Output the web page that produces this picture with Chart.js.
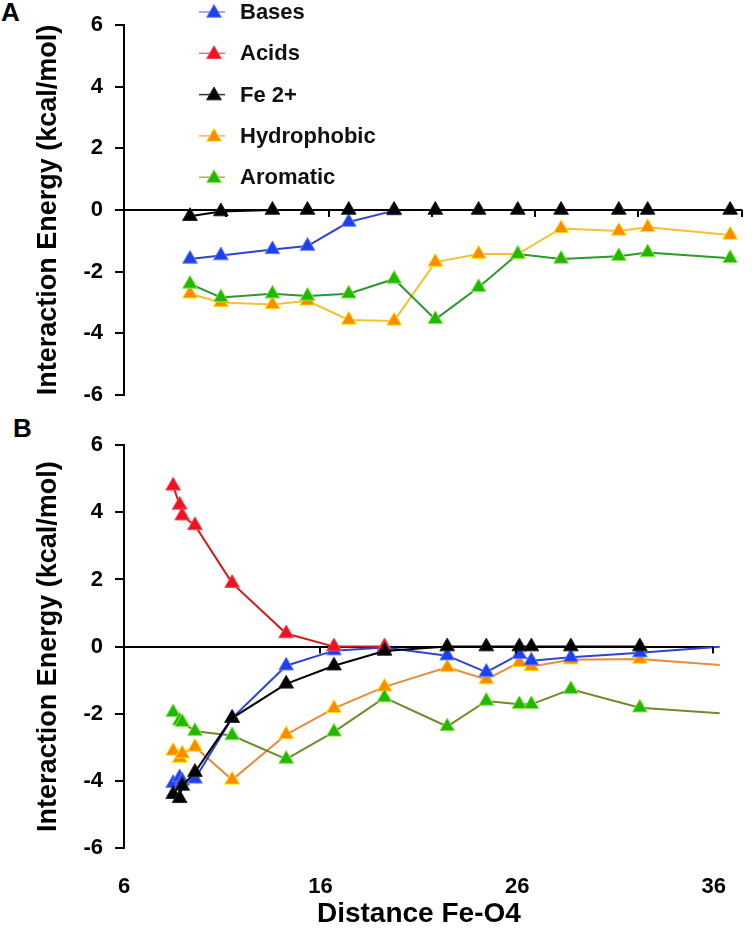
<!DOCTYPE html>
<html lang="en">
<head>
<meta charset="UTF-8">
<title>Interaction Energy vs Distance Fe-O4</title>
<script src="https://cdn.jsdelivr.net/npm/chart.js@4"></script>
<style>
  body { margin: 0; background: #fff; }
  #wrap { position: relative; width: 752px; height: 931px; }
  .panel { position: absolute; left: 0; }
  #panelA { top: 0; }
  #panelB { top: 420px; }
  .tag { position: absolute; font: bold 26px Arial, "Liberation Sans", sans-serif; color: #000; }
</style>
</head>
<body>
<div id="wrap">
  <div class="tag" style="left:1px; top:-3px;">A</div>
  <div class="tag" style="left:13px; top:413px;">B</div>
  <canvas id="panelA" class="panel" width="752" height="420"></canvas>
  <canvas id="panelB" class="panel" width="752" height="511"></canvas>
</div>
<script>
// panel A: distance Fe-O4 of each residue and its interaction energy
const distA = [9.2, 10.7, 13.2, 14.9, 16.9, 19.1, 21.1, 23.2, 25.1, 27.2, 30.0, 31.4, 35.4];
const basesA = [-1.59, -1.48, -1.28, -1.17, -0.39, -0.02];
const acidsA = [];
const fe2A = [-0.2, -0.05, 0, 0, 0, 0, 0, 0, 0, 0, 0, 0, 0];
const hydroA = [-2.72, -3.0, -3.07, -2.95, -3.57, -3.6, -1.69, -1.43, -1.43, -0.6, -0.68, -0.56, -0.81];
const aromA = [-2.4, -2.84, -2.72, -2.79, -2.72, -2.24, -3.55, -2.51, -1.43, -1.59, -1.5, -1.38, -1.57];

// panel B
const distB = [8.5, 8.83, 8.96, 9.61, 11.5, 14.25, 16.68, 19.25, 22.44, 24.43, 26.11, 26.72, 28.73, 32.24, 36.4];
const basesB = [-4.07, -3.9, -4.0, -3.94, -2.13, -0.57, -0.12, -0.03, -0.27, -0.76, -0.23, -0.42, -0.32, -0.18, 0];
const acidsB = [4.79, 4.22, 3.9, 3.61, 1.89, 0.39, 0, 0];
const fe2B = [-4.4, -4.52, -4.15, -3.74, -2.13, -1.11, -0.57, -0.13, 0, 0, 0, 0, 0, 0];
const hydroB = [-3.11, -3.32, -3.19, -2.99, -3.97, -2.62, -1.84, -1.2, -0.62, -0.98, -0.47, -0.59, -0.39, -0.37, -0.55];
const aromB = [-1.96, -2.21, -2.25, -2.52, -2.65, -3.35, -2.54, -1.52, -2.38, -1.62, -1.72, -1.72, -1.27, -1.82, -1.99];

const seriesNames = ['Bases', 'Acids', 'Fe 2+', 'Hydrophobic', 'Aromatic'];
const yTicks = [-6, -4, -2, 0, 2, 4, 6];
const xTicks = [6, 16, 26, 36];
// small tick marks hanging under the zero line
const zeroTicksA = [11, 16, 21, 26, 31, 36];
const zeroTicksB = [16, 26, 36];

// styles
const styles = [
  { lineA: '#2f44d0', lineB: '#2f44d0', fill: '#1e3ff2', edge: '#6680ff', key: '#7f95e0', order: 2 },
  { lineA: '#d21a1a', lineB: '#d21a1a', fill: '#f01222', edge: '#ff4a5a', key: '#e5707e', order: 1 },
  { lineA: '#000000', lineB: '#000000', fill: '#000000', edge: '#222222', key: '#333333', order: 0 },
  { lineA: '#f2c232', lineB: '#ea8a3c', fill: '#ff8a00', edge: '#ffe600', key: '#f2b070', order: 4 },
  { lineA: '#2a9a2a', lineB: '#6f8c2a', fill: '#20b800', edge: '#8ae84a', key: '#b8a860', order: 3 }
];

const pts = (xs, ys) => ys.map((y, i) => ({ x: xs[i], y: y }));

function makeDatasets(xs, lists, lineKey) {
  return lists.map((ys, i) => ({
    label: seriesNames[i],
    data: pts(xs, ys),
    borderColor: styles[i][lineKey],
    borderWidth: 2,
    pointStyle: 'triangle',
    pointRadius: ctx => (ctx.parsed && ctx.parsed.x > 36 ? 0 : 8.5),
    pointBackgroundColor: styles[i].fill,
    pointBorderColor: styles[i].edge,
    pointBorderWidth: 1,
    tension: 0,
    order: styles[i].order,
    clip: { left: false, top: false, right: 6, bottom: false }
  }));
}

const boldFont = size => ({ family: 'Arial, "Liberation Sans", sans-serif', size: size, weight: 'bold', lineHeight: 1.2 });

function yScale() {
  return {
    min: -6, max: 6,
    afterBuildTicks: s => { s.ticks = yTicks.map(v => ({ value: v })); },
    afterFit: s => { s.width = 124; },
    border: { display: true, color: '#000', width: 2 },
    grid: {
      color: ctx => (ctx.tick && ctx.tick.value === 0 ? '#000' : 'rgba(0,0,0,0)'),
      lineWidth: 2,
      tickColor: '#000',
      tickWidth: 2,
      tickLength: 9
    },
    ticks: { color: '#000', font: boldFont(22), padding: 12 },
    title: {
      display: true, text: 'Interaction Energy (kcal/mol)', color: '#000',
      font: boldFont(27), padding: { top: 32, bottom: 0 }
    }
  };
}

// short ticks below the zero line, placed with the x scale
const zeroTicks = {
  id: 'zeroTicks',
  afterDatasetsDraw(chart, args, opts) {
    const { ctx, scales: { x, y } } = chart;
    const y0 = y.getPixelForValue(0);
    ctx.save();
    ctx.strokeStyle = '#000';
    ctx.lineWidth = 2;
    (opts.values || []).forEach(v => {
      const px = Math.round(x.getPixelForValue(v)) - 1;
      ctx.beginPath();
      ctx.moveTo(px, y0);
      ctx.lineTo(px, y0 + 7);
      ctx.stroke();
    });
    ctx.restore();
  }
};

// legend drawn in the upper part of panel A
const legendTop = 12, legendGap = 41.3;
const keyLegend = {
  id: 'keyLegend',
  afterDraw(chart) {
    const ctx = chart.ctx;
    ctx.save();
    chart.data.datasets.forEach((ds, i) => {
      const y = legendTop + i * legendGap;
      ctx.strokeStyle = styles[i].key;
      ctx.lineWidth = 1.5;
      ctx.beginPath();
      ctx.moveTo(199, y);
      ctx.lineTo(225, y);
      ctx.stroke();
      ctx.fillStyle = styles[i].fill;
      ctx.strokeStyle = styles[i].edge;
      ctx.lineWidth = 1;
      Chart.helpers.drawPoint(ctx, { pointStyle: 'triangle', radius: 8.5, rotation: 0, borderWidth: 1 }, 214, y + 1);
      ctx.fillStyle = '#111';
      ctx.font = 'bold 22px Arial, "Liberation Sans", sans-serif';
      ctx.textBaseline = 'middle';
      ctx.textAlign = 'left';
      ctx.fillText(ds.label, 240, y + 1);
    });
    ctx.restore();
  }
};

function options(padding, xScale, tickValues) {
  return {
    responsive: false,
    animation: false,
    events: [],
    layout: { padding: padding },
    plugins: {
      legend: { display: false },
      tooltip: { enabled: false },
      zeroTicks: { values: tickValues }
    },
    scales: { x: xScale, y: yScale() }
  };
}

new Chart(document.getElementById('panelA'), {
  type: 'line',
  data: { datasets: makeDatasets(distA, [basesA, acidsA, fe2A, hydroA, aromA], 'lineA') },
  options: options(
    { top: 25, right: 2, bottom: 12, left: 0 },
    { type: 'linear', min: 6, max: 36, display: false },
    zeroTicksA
  ),
  plugins: [zeroTicks, keyLegend]
});

new Chart(document.getElementById('panelB'), {
  type: 'line',
  data: { datasets: makeDatasets(distB, [basesB, acidsB, fe2B, hydroB, aromB], 'lineB') },
  options: options(
    { top: 19, right: 17, bottom: 0, left: 0 },
    {
      type: 'linear', min: 6, max: 36,
      afterBuildTicks: s => { s.ticks = xTicks.map(v => ({ value: v })); },
      afterFit: s => { s.height = 83; },
      border: { display: false },
      grid: { display: false, drawTicks: false },
      ticks: { color: '#000', font: boldFont(22), padding: 26, maxRotation: 0 },
      title: {
        display: true, text: 'Distance Fe-O4', color: '#000',
        font: boldFont(28), padding: { top: 0, bottom: 0 }
      }
    },
    zeroTicksB
  ),
  plugins: [zeroTicks]
});
</script>
</body>
</html>
